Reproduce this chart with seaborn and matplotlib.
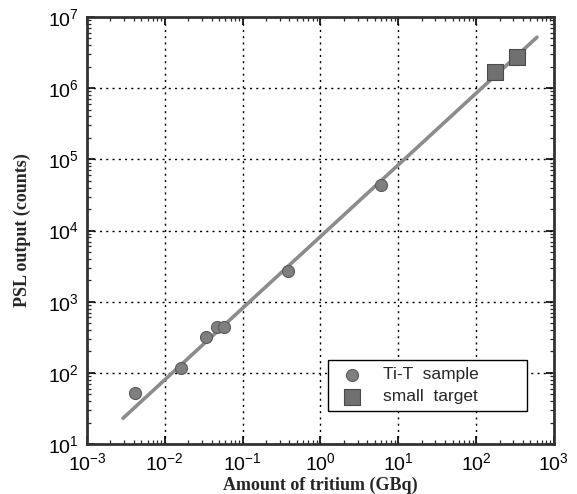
import numpy as np
import pandas as pd
import matplotlib
matplotlib.use("Agg")
import matplotlib.pyplot as plt
import seaborn as sns
from matplotlib.ticker import LogLocator, NullFormatter

# ---- data ----
tit_x = [0.0041, 0.0162, 0.034, 0.047, 0.058, 0.384, 6.0]
tit_y = [52, 117, 318, 440, 440, 2690, 44000]
small_x = [175, 337]
small_y = [1.67e6, 2.73e6]
fit_x = [0.0029, 606]
fit_y = [23, 5.2e6]

x_ticks = [1e-3, 1e-2, 1e-1, 1e0, 1e1, 1e2, 1e3]
x_labels = ["$10^{-3}$", "$10^{-2}$", "$10^{-1}$", "$10^{0}$", "$10^{1}$", "$10^{2}$", "$10^{3}$"]
y_ticks = [1e1, 1e2, 1e3, 1e4, 1e5, 1e6, 1e7]
y_labels = ["$10^{1}$", "$10^{2}$", "$10^{3}$", "$10^{4}$", "$10^{5}$", "$10^{6}$", "$10^{7}$"]

sns.set_style("ticks")
plt.rcParams["font.family"] = ["Liberation Sans", "DejaVu Sans"]
plt.rcParams["mathtext.fontset"] = "custom"
plt.rcParams["mathtext.rm"] = "Liberation Sans"
plt.rcParams["mathtext.it"] = "Liberation Sans"

fig = plt.figure(figsize=(5.77, 4.94), dpi=100)
ax = fig.add_axes([0.1508, 0.1012, 0.8092, 0.8644])

df_t = pd.DataFrame({"x": tit_x, "y": tit_y})
df_s = pd.DataFrame({"x": small_x, "y": small_y})
df_f = pd.DataFrame({"x": fit_x, "y": fit_y})

ax.set_xscale("log")
ax.set_yscale("log")

sns.lineplot(data=df_f, x="x", y="y", ax=ax, color="#8c8c8c", linewidth=2.6, zorder=2)
sns.scatterplot(data=df_t, x="x", y="y", ax=ax, marker="o", s=75, color="#7f7f7f",
                edgecolor="#5a5a5a", linewidth=0.8, zorder=3, label="Ti-T  sample")
sns.scatterplot(data=df_s, x="x", y="y", ax=ax, marker="s", s=140, color="#707070",
                edgecolor="#4a4a4a", linewidth=0.8, zorder=3, label="small  target")

ax.set_xlim(1e-3, 1e3)
ax.set_ylim(1e1, 1e7)
ax.set_xticks(x_ticks)
ax.set_xticklabels(x_labels)
ax.set_yticks(y_ticks)
ax.set_yticklabels(y_labels)
ax.xaxis.set_minor_locator(LogLocator(base=10, subs=np.arange(2, 10), numticks=20))
ax.yaxis.set_minor_locator(LogLocator(base=10, subs=np.arange(2, 10), numticks=20))
ax.xaxis.set_minor_formatter(NullFormatter())
ax.yaxis.set_minor_formatter(NullFormatter())

ax.tick_params(which="major", direction="in", length=6, width=1.2, top=True, right=True,
               labelsize=14, colors="black", pad=6)
ax.tick_params(which="minor", direction="in", length=3, width=0.9, top=True, right=True)

ax.grid(True, which="major", linestyle=(0, (1.5, 3)), color="black", linewidth=1.0)
for sp in ax.spines.values():
    sp.set_linewidth(2.0)
    sp.set_color("#333333")

ax.set_xlabel("Amount of tritium (GBq)", fontsize=13, fontweight="bold",
              family=["Liberation Serif"], labelpad=2)
ax.set_ylabel("PSL output (counts)", fontsize=13, fontweight="bold",
              family=["Liberation Serif"], labelpad=12)

leg = ax.legend(loc="lower left", bbox_to_anchor=(0.516, 0.077, 0.426, 0.143),
                mode="expand", fontsize=12.5, frameon=True, fancybox=False,
                edgecolor="black", framealpha=1, borderaxespad=0, handletextpad=0.8,
                borderpad=0.4, labelspacing=0.4)
leg.get_frame().set_linewidth(1.0)

fig.savefig("out.png", dpi=100)
